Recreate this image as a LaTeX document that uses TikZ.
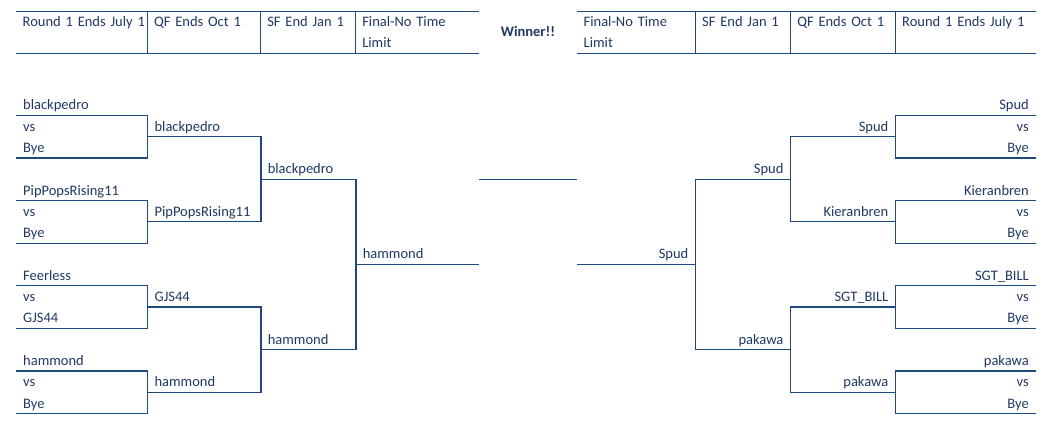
\documentclass[tikz,border=0pt]{standalone}
\usepackage{fontspec}
\setmainfont{Carlito}
\definecolor{textblue}{HTML}{1F3864}
\definecolor{lineblue}{HTML}{1F497D}

\begin{document}
\begin{tikzpicture}[x=1pt, y=-1pt,
    every node/.style={font=\fontsize{14.5}{21}\selectfont, text=textblue},
    bracket/.style={draw=lineblue, line width=1.2pt},
    head/.style={anchor=north west, inner xsep=6.5pt, inner ysep=0pt, text width=#1, align=left},
    lslot/.style={anchor=south west, inner xsep=7pt, inner ysep=0pt, text height=16pt, text depth=5.3pt, text width=#1, align=left},
    rslot/.style={anchor=south east, inner xsep=7pt, inner ysep=0pt, text height=16pt, text depth=5.3pt, text width=#1, align=right}]
   \useasboundingbox (0,0) rectangle (1047,428);
   % header, left half
   \node[head=118.4pt] (h1) at (16,11.5)    {\strut\mbox{Round 1 Ends July 1}\\\strut};
   \node[head=100.2pt] (h2) at (147.4,11.5) {\strut QF Ends Oct 1\\\strut};
   \node[head=82pt]    (h3) at (260.6,11.5) {\strut SF End Jan 1\\\strut};
   \node[head=110.4pt] (h4) at (355.6,11.5) {\strut Final-No Time\\\strut Limit};
   \draw[bracket] (h1.north west) -- (h4.north east);
   \draw[bracket] (h1.south west) -- (h4.south east);
   \draw[bracket] (h2.north west) -- (h2.south west);
   \draw[bracket] (h3.north west) -- (h3.south west);
   \draw[bracket] (h4.north west) -- (h4.south west);
   % header, right half
   \node[head=105.5pt] (g1) at (577,11.5)   {\strut Final-No Time\\\strut Limit};
   \node[head=82.1pt]  (g2) at (695.5,11.5) {\strut SF End Jan 1\\\strut};
   \node[head=91.9pt]  (g3) at (790.6,11.5) {\strut QF Ends Oct 1\\\strut};
   \node[head=127.5pt] (g4) at (895.5,11.5) {\strut\mbox{Round 1 Ends July 1}\\\strut};
   \draw[bracket] (g1.north west) -- (g4.north east);
   \draw[bracket] (g1.south west) -- (g4.south east);
   \draw[bracket] (g2.north west) -- (g2.south west);
   \draw[bracket] (g3.north west) -- (g3.south west);
   \draw[bracket] (g4.north west) -- (g4.south west);
   \node[font=\fontsize{14.5}{21}\selectfont\bfseries, anchor=base] (winner) at (528,36.5) {Winner!!};
   % round 1, left
   \node[lslot=117.4pt] (a1)  at (16,115.3) {blackpedro};
   \node[lslot=117.4pt] (a1v) at (16,136.6) {vs};
   \node[lslot=117.4pt] (a1b) at (16,157.9) {Bye};
   \node[lslot=117.4pt] (a2)  at (16,200.5) {PipPopsRising11};
   \node[lslot=117.4pt] (a2v) at (16,221.8) {vs};
   \node[lslot=117.4pt] (a2b) at (16,243.1) {Bye};
   \node[lslot=117.4pt] (a3)  at (16,285.7) {Feerless};
   \node[lslot=117.4pt] (a3v) at (16,307.0) {vs};
   \node[lslot=117.4pt] (a3b) at (16,328.3) {GJS44};
   \node[lslot=117.4pt] (a4)  at (16,370.9) {hammond};
   \node[lslot=117.4pt] (a4v) at (16,392.2) {vs};
   \node[lslot=117.4pt] (a4b) at (16,413.5) {Bye};
   \draw[bracket] (a1.south west) -- (a1.south east) |- (a1b.south west);
   \draw[bracket] (a2.south west) -- (a2.south east) |- (a2b.south west);
   \draw[bracket] (a3.south west) -- (a3.south east) |- (a3b.south west);
   \draw[bracket] (a4.south west) -- (a4.south east) |- (a4b.south west);
   % later rounds, left
   \node[lslot=99.2pt]  (q1) at (147.4,136.6) {blackpedro};
   \node[lslot=99.2pt]  (q2) at (147.4,221.8) {PipPopsRising11};
   \node[lslot=99.2pt]  (q3) at (147.4,307.0) {GJS44};
   \node[lslot=99.2pt]  (q4) at (147.4,392.2) {hammond};
   \node[lslot=81pt]    (s1) at (260.6,179.2) {blackpedro};
   \node[lslot=81pt]    (s2) at (260.6,349.6) {hammond};
   \node[lslot=109.4pt] (f1) at (355.6,264.4) {hammond};
   \draw[bracket] (q1.south west) -- (q1.south east) |- (q2.south west);
   \draw[bracket] (q3.south west) -- (q3.south east) |- (q4.south west);
   \draw[bracket] (s1.south west) -- (s1.south east) |- (s2.south west);
   \draw[bracket] (f1.south west) -- (f1.south east);
   % winner line
   \coordinate (wl) at (479,179.2);
   \coordinate (wr) at (577,179.2);
   \draw[bracket] (wl) -- (wr);
   % round 1, right
   \node[rslot=126.5pt] (b1)  at (1036,115.3) {Spud};
   \node[rslot=126.5pt] (b1v) at (1036,136.6) {vs};
   \node[rslot=126.5pt] (b1b) at (1036,157.9) {Bye};
   \node[rslot=126.5pt] (b2)  at (1036,200.5) {Kieranbren};
   \node[rslot=126.5pt] (b2v) at (1036,221.8) {vs};
   \node[rslot=126.5pt] (b2b) at (1036,243.1) {Bye};
   \node[rslot=126.5pt] (b3)  at (1036,285.7) {SGT\_BILL};
   \node[rslot=126.5pt] (b3v) at (1036,307.0) {vs};
   \node[rslot=126.5pt] (b3b) at (1036,328.3) {Bye};
   \node[rslot=126.5pt] (b4)  at (1036,370.9) {pakawa};
   \node[rslot=126.5pt] (b4v) at (1036,392.2) {vs};
   \node[rslot=126.5pt] (b4b) at (1036,413.5) {Bye};
   \draw[bracket] (b1.south east) -- (b1.south west) |- (b1b.south east);
   \draw[bracket] (b2.south east) -- (b2.south west) |- (b2b.south east);
   \draw[bracket] (b3.south east) -- (b3.south west) |- (b3b.south east);
   \draw[bracket] (b4.south east) -- (b4.south west) |- (b4b.south east);
   % later rounds, right
   \node[rslot=90.9pt]  (r1) at (895.5,136.6) {Spud};
   \node[rslot=90.9pt]  (r2) at (895.5,221.8) {Kieranbren};
   \node[rslot=90.9pt]  (r3) at (895.5,307.0) {SGT\_BILL};
   \node[rslot=90.9pt]  (r4) at (895.5,392.2) {pakawa};
   \node[rslot=81.1pt]  (t1) at (790.6,179.2) {Spud};
   \node[rslot=81.1pt]  (t2) at (790.6,349.6) {pakawa};
   \node[rslot=104.5pt] (e1) at (695.5,264.4) {Spud};
   \draw[bracket] (r1.south east) -- (r1.south west) |- (r2.south east);
   \draw[bracket] (r3.south east) -- (r3.south west) |- (r4.south east);
   \draw[bracket] (t1.south east) -- (t1.south west) |- (t2.south east);
   \draw[bracket] (e1.south east) -- (e1.south west);
 \end{tikzpicture}
\end{document}
